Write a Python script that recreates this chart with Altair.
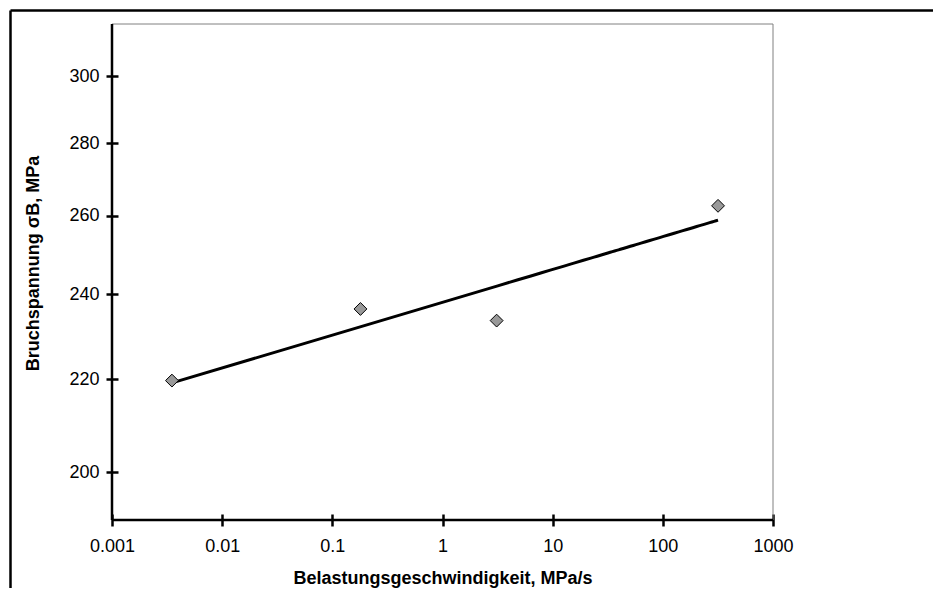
import altair as alt
import pandas as pd

# data
rates = [0.0035, 0.18, 3.1, 317]          # Belastungsgeschwindigkeit, MPa/s
stress = [219.7, 236.4, 233.6, 262.7]     # Bruchspannung, MPa
x_ticks = [0.001, 0.01, 0.1, 1, 10, 100, 1000]
y_ticks = [200, 220, 240, 260, 280, 300]

df = pd.DataFrame({"rate": rates, "stress": stress})
one = pd.DataFrame({"k": [0]})

W, H = 661, 496
FONT = "Liberation Sans"

xscale = alt.Scale(type="log", domain=[0.001, 1000], nice=False)
yscale = alt.Scale(type="log", domain=[190.5, 316.4], nice=False)

xaxis = alt.Axis(
    values=x_ticks, format="~g", title="Belastungsgeschwindigkeit, MPa/s",
    grid=False, domain=False, offset=-6, tickSize=12, tickWidth=2.5, tickColor="black",
    labelFlush=False, labelOverlap=False,
    labelPadding=11, labelFont=FONT, labelFontSize=18, labelColor="black",
    titleFont=FONT, titleFontSize=18, titleFontWeight="bold", titleColor="black",
    titleBaseline="alphabetic", titleY=69, titleAnchor="middle",
)
yaxis = alt.Axis(
    values=y_ticks, format="d", title="Bruchspannung σB, MPa",
    grid=False, domain=False, offset=-6, tickSize=12, tickWidth=2.5, tickColor="black",
    labelFlush=False, labelOverlap=False,
    labelPadding=7, labelFont=FONT, labelFontSize=18, labelColor="black",
    titleFont=FONT, titleFontSize=18, titleFontWeight="bold", titleColor="black",
    titleBaseline="alphabetic", titleAlign="center", titleAngle=270,
    titleX=-80, titleY=239,
)

points = alt.Chart(df).mark_point(
    shape="diamond", filled=True, size=165, fill="#999999", stroke="black",
    strokeWidth=1, opacity=1,
).encode(
    x=alt.X("rate:Q", scale=xscale, axis=xaxis),
    y=alt.Y("stress:Q", scale=yscale, axis=yaxis),
)

trend = alt.Chart(df).transform_regression(
    "rate", "stress", method="pow"
).mark_line(color="black", strokeWidth=3).encode(
    x=alt.X("rate:Q", scale=xscale),
    y=alt.Y("stress:Q", scale=yscale),
)

left_axis = alt.Chart(one).mark_rule(color="black", strokeWidth=2.5).encode(
    x=alt.value(0), y=alt.value(0), y2=alt.value(H))
bottom_axis = alt.Chart(one).mark_rule(color="black", strokeWidth=2.5).encode(
    x=alt.value(0), x2=alt.value(W), y=alt.value(H))
frame_top = alt.Chart(one).mark_rule(color="#808080", strokeWidth=1).encode(
    x=alt.value(0), x2=alt.value(W), y=alt.value(0))
frame_right = alt.Chart(one).mark_rule(color="#808080", strokeWidth=1).encode(
    x=alt.value(W), y=alt.value(0), y2=alt.value(H))
outer_top = alt.Chart(one).mark_rule(color="black", strokeWidth=2.5).encode(
    x=alt.value(-101.5), x2=alt.value(840), y=alt.value(-13.5))
outer_left = alt.Chart(one).mark_rule(color="black", strokeWidth=2.5).encode(
    x=alt.value(-101.5), y=alt.value(-13.5), y2=alt.value(575))

chart = alt.layer(
    outer_top, outer_left, frame_top, frame_right,
    trend, points, left_axis, bottom_axis,
).properties(
    width=W, height=H,
    autosize=alt.AutoSizeParams(type="none"),
    padding={"left": 104, "top": 16, "right": 160, "bottom": 68},
    background="white",
).configure_view(stroke=None)

chart.save("out.html", embed_options={"renderer": "svg", "actions": False})
